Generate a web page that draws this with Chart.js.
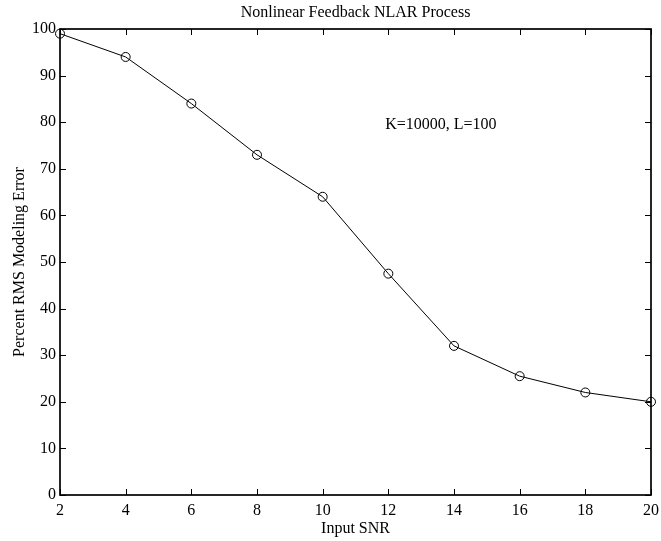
<!DOCTYPE html>
<html>
<head>
<meta charset="utf-8">
<script src="https://cdn.jsdelivr.net/npm/chart.js@4/dist/chart.umd.min.js"></script>
<style>
  html, body { margin: 0; padding: 0; background: #fff; }
  #wrap { width: 661px; height: 541px; }
</style>
</head>
<body>
<div id="wrap"><canvas id="c" width="661" height="541"></canvas></div>
<script>
const snr = [2, 4, 6, 8, 10, 12, 14, 16, 18, 20];
const rmsError = [99, 94, 84, 73, 64, 47.5, 32, 25.5, 22, 20];
const xTicks = [2, 4, 6, 8, 10, 12, 14, 16, 18, 20];
const yTicks = [0, 10, 20, 30, 40, 50, 60, 70, 80, 90, 100];
const titleText = 'Nonlinear Feedback NLAR Process';
const xLabel = 'Input SNR';
const yLabel = 'Percent RMS Modeling Error';
const noteText = 'K=10000, L=100';
const notePos = { x: 13.6, y: 79.5 };

const FONT = '"Liberation Serif", "Times New Roman", serif';

const boxTicks = {
  id: 'boxTicks',
  afterDraw(chart) {
    const { ctx, chartArea: a, scales } = chart;
    const xs = scales.x, ys = scales.y;
    ctx.save();
    ctx.strokeStyle = '#000';
    ctx.lineWidth = 1;
    const tl = 6;
    ctx.beginPath();
    xTicks.forEach(v => {
      const px = Math.round(xs.getPixelForValue(v)) + 0.5;
      ctx.moveTo(px, a.bottom); ctx.lineTo(px, a.bottom - tl);
      ctx.moveTo(px, a.top); ctx.lineTo(px, a.top + tl);
    });
    yTicks.forEach(v => {
      const py = Math.round(ys.getPixelForValue(v)) + 0.5;
      ctx.moveTo(a.left, py); ctx.lineTo(a.left + tl, py);
      ctx.moveTo(a.right, py); ctx.lineTo(a.right - tl, py);
    });
    ctx.stroke();
    ctx.lineWidth = 1.7;
    ctx.strokeRect(a.left, a.top, a.right - a.left, a.bottom - a.top);
    // title
    ctx.fillStyle = '#000';
    ctx.font = '16px ' + FONT;
    ctx.textAlign = 'center';
    ctx.textBaseline = 'middle';
    ctx.fillText(titleText, (a.left + a.right) / 2, 13);
    // note
    ctx.fillText(noteText, xs.getPixelForValue(notePos.x), ys.getPixelForValue(notePos.y));
    ctx.restore();
  }
};

new Chart(document.getElementById('c'), {
  type: 'line',
  data: {
    datasets: [{
      data: snr.map((x, i) => ({ x, y: rmsError[i] })),
      borderColor: '#000',
      borderWidth: 1,
      pointStyle: 'circle',
      pointRadius: 4.5,
      pointBorderWidth: 1,
      pointBorderColor: '#000',
      pointBackgroundColor: 'rgba(0,0,0,0)',
      tension: 0,
      clip: false
    }]
  },
  options: {
    responsive: false,
    animation: false,
    devicePixelRatio: 1,
    layout: { padding: { left: 0, right: 10, top: 29, bottom: 0 } },
    plugins: { legend: { display: false }, tooltip: { enabled: false }, title: { display: false } },
    scales: {
      x: {
        type: 'linear', min: 2, max: 20,
        afterBuildTicks: s => { s.ticks = xTicks.map(v => ({ value: v })); },
        afterFit: s => { s.height = 46; s.paddingLeft = 0; s.paddingRight = 0; },
        grid: { display: false, drawTicks: false },
        border: { display: false },
        ticks: { color: '#000', font: { family: FONT, size: 16 }, padding: 6, maxRotation: 0, autoSkip: false },
        title: { display: true, text: xLabel, color: '#000', font: { family: FONT, size: 16 }, padding: { top: 0, bottom: 3 } }
      },
      y: {
        type: 'linear', min: 0, max: 100,
        afterBuildTicks: s => { s.ticks = yTicks.map(v => ({ value: v })); },
        afterFit: s => { s.width = 60; s.paddingTop = 0; s.paddingBottom = 0; },
        grid: { display: false, drawTicks: false },
        border: { display: false },
        ticks: { color: '#000', font: { family: FONT, size: 16 }, padding: 4, autoSkip: false },
        title: { display: true, text: yLabel, color: '#000', font: { family: FONT, size: 16 }, padding: { top: 10, bottom: 0 } }
      }
    }
  },
  plugins: [boxTicks]
});
</script>
</body>
</html>
